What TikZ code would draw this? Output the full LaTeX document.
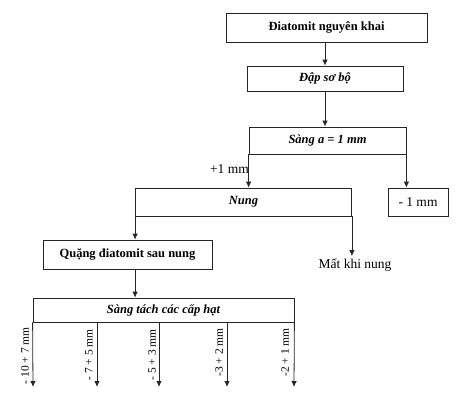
\documentclass[tikz,border=0pt]{standalone}
\usepackage{fontspec}
\setmainfont{Liberation Serif}
\usetikzlibrary{arrows.meta}
\begin{document}
\begin{tikzpicture}[x=1pt,y=-1pt,
  box/.style={draw=black!85,line width=0.8pt,inner sep=0pt},
  lab/.style={font=\fontsize{13.5}{15}\selectfont},
  blab/.style={font=\fontsize{11.5}{13}\selectfont,rotate=90,anchor=east,inner sep=0pt},
  conn/.style={draw=black!85,line width=0.8pt},
  arr/.style={conn,-{Latex[length=6pt,width=5.5pt]}}]
\useasboundingbox[fill=white] (0,0) rectangle (456,400);
% boxes
\node[box,minimum width=201,minimum height=29,font=\fontsize{12.5}{14}\selectfont\bfseries] (b1) at (326.5,27.5) {Điatomit nguyên khai};
\node[box,minimum width=156,minimum height=25,font=\fontsize{12.5}{14}\selectfont\bfseries\itshape] (b2) at (325,78.5) {Đập sơ bộ};
\node[box,minimum width=157,minimum height=27,font=\fontsize{12.5}{14}\selectfont\bfseries\itshape] (sang) at (327.5,140.5) {Sàng a = 1 mm};
\node[box,minimum width=216,minimum height=28,font=\fontsize{12.5}{14}\selectfont\bfseries\itshape] (nung) at (243.5,202) {Nung};
\node[box,minimum width=60,minimum height=28,lab] (m1) at (418,202) {- 1 mm};
\node[box,minimum width=169,minimum height=29,font=\fontsize{12.5}{14}\selectfont\bfseries] (quang) at (127.5,254.5) {Quặng điatomit sau nung};
\node[box,minimum width=261,minimum height=24,font=\fontsize{12.5}{14}\selectfont\bfseries\itshape] (tach) at (163.5,310) {Sàng tách các cấp hạt};
% labels
\node[lab,anchor=east,inner sep=0pt] (p1) at (249,169) {+1 mm};
\node[lab] (mat) at (355,265) {Mất khi nung};
% connectors
\draw[arr] (b2.north |- b1.south) -- (b2.north);
\draw[arr] (b2.south) -- (b2.south |- sang.north);
\draw[arr] (sang.south west) -- (sang.south west |- nung.north);
\draw[arr] (sang.south east) -- (sang.south east |- m1.north);
\draw[arr] (nung.south west) -- (nung.south west |- quang.north);
\draw[arr] (nung.south east) -- ([yshift=-1pt]nung.south east |- mat.north);
\draw[arr] (nung.south west |- quang.south) -- (nung.south west |- tach.north);
% outputs of screening
\coordinate (s1) at (tach.south west);
\coordinate (s2) at (97,322);
\coordinate (s3) at (159,322);
\coordinate (s4) at (227,322);
\coordinate (s5) at (tach.south east);
\coordinate (e1) at (33,387);
\coordinate (e2) at (97,387);
\coordinate (e3) at (159,387);
\coordinate (e4) at (227,387);
\coordinate (e5) at (294,387);
\draw[arr] (s1) -- (e1);
\draw[arr] (s2) -- (e2);
\draw[arr] (s3) -- (e3);
\draw[arr] (s4) -- (e4);
\draw[arr] (s5) -- (e5);
\node[blab] (l1) at (25,327) {- 10 + 7 mm};
\node[blab] (l2) at (89,329) {- 7 + 5 mm};
\node[blab] (l3) at (152,329) {- 5 + 3 mm};
\node[blab] (l4) at (219,328) {-3 + 2 mm};
\node[blab] (l5) at (285,328) {-2 + 1 mm};
\end{tikzpicture}
\end{document}
